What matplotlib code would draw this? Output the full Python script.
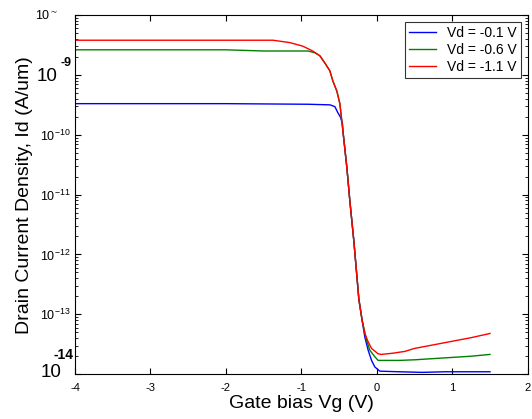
import numpy as np
import matplotlib
matplotlib.use("Agg")
import matplotlib.pyplot as plt
import matplotlib.transforms as mtransforms

plt.rcParams['font.family'] = ['Liberation Sans', 'DejaVu Sans']

#------------------------------------------#
# Donnees (log10 de Id)
#------------------------------------------#
vg_blue = [-4.0, -3.0, -2.0, -0.91, -0.62, -0.556, -0.517, -0.48, -0.455, -0.45, -0.397,
           -0.358, -0.305, -0.238, -0.195, -0.159, -0.115, -0.07, -0.026, 0.04,
           0.3, 0.6, 0.9, 1.2, 1.5]
log_blue = [-9.48, -9.48, -9.48, -9.49, -9.50, -9.53, -9.63, -9.71, -9.82, -9.93, -10.55,
            -11.10, -11.77, -12.75, -13.10, -13.38, -13.60, -13.77, -13.88, -13.95,
            -13.96, -13.97, -13.96, -13.96, -13.96]

vg_green = [-4.0, -3.0, -2.01, -1.5, -0.914, -0.82, -0.755, -0.689, -0.623, -0.583, -0.53,
            -0.49, -0.45, -0.397, -0.358, -0.305, -0.238, -0.195, -0.137, -0.093, -0.026,
            0.017, 0.3, 0.5, 0.75, 1.0, 1.25, 1.5]
log_green = [-8.58, -8.58, -8.58, -8.60, -8.60, -8.63, -8.68, -8.80, -8.93, -9.10, -9.27,
             -9.48, -9.93, -10.55, -11.10, -11.77, -12.75, -13.10, -13.43, -13.60, -13.71,
             -13.77, -13.77, -13.76, -13.74, -13.72, -13.70, -13.67]

vg_red = [-4.0, -3.0, -2.0, -1.377, -1.152, -0.98, -0.85, -0.755, -0.689, -0.623, -0.583,
          -0.53, -0.49, -0.45, -0.397, -0.358, -0.305, -0.238, -0.195, -0.159, -0.115,
          -0.07, 0.017, 0.06, 0.21, 0.37, 0.5, 0.75, 1.0, 1.25, 1.5]
log_red = [-8.42, -8.42, -8.42, -8.42, -8.46, -8.52, -8.60, -8.68, -8.80, -8.93, -9.10,
           -9.27, -9.48, -9.93, -10.55, -11.10, -11.77, -12.75, -13.10, -13.32, -13.46,
           -13.57, -13.66, -13.67, -13.65, -13.62, -13.57, -13.51, -13.45, -13.39, -13.32]

labels = ['Vd = -0.1 V', 'Vd = -0.6 V', 'Vd = -1.1 V']
colors = ['#0000ff', '#008000', '#ff0000']
x_ticks = [-4, -3, -2, -1, 0, 1, 2]
y_decades = [-14, -13, -12, -11, -10, -9, -8]

#------------------------------------------#
# Trace
#------------------------------------------#
fig = plt.figure(figsize=(5.32, 4.19), dpi=100)
ax = fig.add_axes([0.141, 0.107, 0.851, 0.857])

series = [(vg_blue, log_blue), (vg_green, log_green), (vg_red, log_red)]
for (vx, ly), lab, col in zip(series, labels, colors):
    ax.plot(vx, 10.0 ** np.array(ly), color=col, lw=1.0, label=lab)

ax.set_yscale('log')
ax.set_xlim(-4, 2)
ax.set_ylim(1e-14, 1e-8)
ax.set_xticks(x_ticks)
ax.set_xticklabels([str(t) for t in x_ticks], fontsize=8)
ax.set_yticks([10.0 ** d for d in y_decades])
ylabs = []
for d in y_decades:
    if d in (-13, -12, -11, -10):
        ylabs.append(r'$\mathregular{10^{%d}}$' % d)
    else:
        ylabs.append('')
ax.set_yticklabels(ylabs, fontsize=9)
ax.tick_params(which='both', direction='in', top=True, right=True)
ax.tick_params(which='major', length=4)
ax.tick_params(which='minor', length=2)
ax.tick_params(axis='x', pad=6)
for s in ax.spines.values():
    s.set_linewidth(0.8)

# etiquettes retouchees a la main sur l'original
trans = mtransforms.blended_transform_factory(ax.transAxes, ax.transData)
ax.text(-0.037, 1e-8, r'$\mathregular{10^{\sim}}$', transform=trans, fontsize=9,
        ha='right', va='center')
ax.text(-0.038, 10 ** -9.02, '10', transform=trans, fontsize=13.5, ha='right', va='center')
ax.text(-0.007, 10 ** -8.8, '-9', transform=trans, fontsize=9, fontweight='bold',
        ha='right', va='center')
ax.text(-0.004, 10 ** -13.68, '-14', transform=trans, fontsize=10,
        fontweight='bold', ha='right', va='center')
ax.text(-0.029, 10 ** -13.97, '10', transform=trans, fontsize=13.5, ha='right', va='center')

ax.set_xlabel('Gate bias Vg (V)', fontsize=14, labelpad=2)
ax.set_ylabel('Drain Current Density, Id (A/um)', fontsize=14)
ax.yaxis.set_label_coords(-0.092, 0.5)

leg = ax.legend(loc='upper right', fontsize=10, frameon=True, fancybox=False,
                edgecolor='black', borderaxespad=0.5, handlelength=1.9,
                handletextpad=0.8, labelspacing=0.2, borderpad=0.3)
leg.get_frame().set_linewidth(0.8)

plt.savefig('out.png', dpi=100)
